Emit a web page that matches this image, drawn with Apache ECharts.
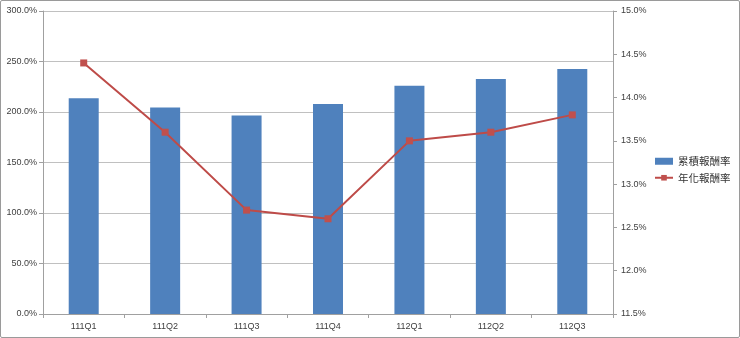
<!DOCTYPE html>
<html><head><meta charset="utf-8">
<script src="https://cdn.jsdelivr.net/npm/echarts@6/dist/echarts.min.js"></script>
<style>html,body{margin:0;padding:0;background:#fff}#c{width:738px;height:336px;border:1px solid #9a9a9a;border-radius:2px}</style>
</head><body><div id="c"></div>
<script>
const categories = ['111Q1','111Q2','111Q3','111Q4','112Q1','112Q2','112Q3'];
const cumulative = [213.5, 204.5, 196.5, 208, 226, 232.7, 242.5];
const annualized = [14.4, 13.6, 12.7, 12.6, 13.5, 13.6, 13.8];
const leftTicks = [0, 50, 100, 150, 200, 250, 300];
const rightTicks = [11.5, 12.0, 12.5, 13.0, 13.5, 14.0, 14.5, 15.0];
const seriesNames = ['累積報酬率', '年化報酬率'];

const chart = echarts.init(document.getElementById('c'));
const axisFont = {fontSize: 9, color: '#404040', fontFamily: 'Liberation Sans, Arial, sans-serif'};
chart.setOption({
  animation: false,
  grid: {left: 42, right: 126, top: 10, bottom: 23},
  legend: {
    orient: 'vertical', left: 653, top: 155, itemGap: 6, padding: 0,
    itemWidth: 18, itemHeight: 7,
    textStyle: {fontSize: 10.5, color: '#333', fontFamily: 'Noto Sans CJK TC'},
    data: [{name: seriesNames[0], icon: 'rect'}, {name: seriesNames[1]}]
  },
  xAxis: {
    type: 'category', data: categories,
    axisLine: {lineStyle: {color: '#a0a0a0'}},
    axisTick: {show: true, alignWithLabel: false, length: 4, lineStyle: {color: '#a0a0a0'}},
    axisLabel: Object.assign({margin: 8}, axisFont)
  },
  yAxis: [{
    type: 'value', min: leftTicks[0], max: leftTicks[leftTicks.length-1], interval: 50,
    axisLine: {show: true, lineStyle: {color: '#a0a0a0'}},
    axisTick: {show: true, length: 4, lineStyle: {color: '#a0a0a0'}},
    splitLine: {lineStyle: {color: '#c0c0c0'}},
    axisLabel: Object.assign({formatter: v => v.toFixed(1) + '%', margin: 6}, axisFont)
  }, {
    type: 'value', min: rightTicks[0], max: rightTicks[rightTicks.length-1], interval: 0.5,
    position: 'right',
    axisLine: {show: true, lineStyle: {color: '#a0a0a0'}},
    axisTick: {show: true, length: 4, lineStyle: {color: '#a0a0a0'}},
    splitLine: {show: false},
    axisLabel: Object.assign({formatter: v => v.toFixed(1) + '%', margin: 8}, axisFont)
  }],
  series: [{
    name: seriesNames[0], type: 'bar', data: cumulative, barWidth: 30,
    itemStyle: {color: '#4F81BD'}, yAxisIndex: 0
  }, {
    name: seriesNames[1], type: 'line', data: annualized, yAxisIndex: 1,
    symbol: 'rect', symbolSize: 7, lineStyle: {color: '#BE4B48', width: 2},
    itemStyle: {color: '#C0504D'}
  }]
});
</script></body></html>
